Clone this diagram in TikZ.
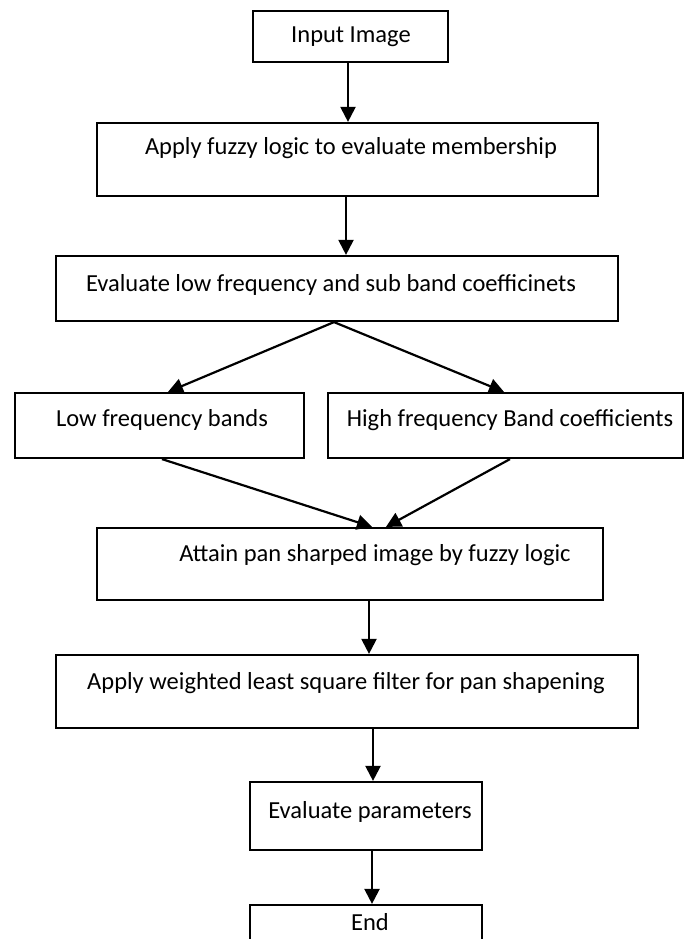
\documentclass[tikz,border=0pt]{standalone}
\usepackage{fontspec}
\setmainfont{Carlito}
\usetikzlibrary{arrows.meta}
\begin{document}
\begin{tikzpicture}[x=1pt,y=-1pt,
  box/.style={draw=black,line width=2.2pt,inner sep=0pt},
  txt/.style={inner sep=0pt,font=\fontsize{24.5}{29}\selectfont},
  conn/.style={line width=2.2pt,-{Triangle[length=15pt,width=15pt]}}]
\useasboundingbox (0,0) rectangle (695,939);
% boxes
\node[box,minimum width=195pt,minimum height=51pt] (b1) at (350.5,36.5) {};
\node[box,minimum width=501pt,minimum height=73pt] (b2) at (347.5,159.5) {};
\node[box,minimum width=562pt,minimum height=65pt] (b3) at (337,288.5) {};
\node[box,minimum width=289pt,minimum height=65pt] (b4) at (159.5,425.5) {};
\node[box,minimum width=355pt,minimum height=65pt] (b5) at (505.5,425.5) {};
\node[box,minimum width=506pt,minimum height=72pt] (b6) at (350,564) {};
\node[box,minimum width=582pt,minimum height=73pt] (b7) at (347,691.5) {};
\node[box,minimum width=232pt,minimum height=68pt] (b8) at (366,816) {};
\node[box,minimum width=232pt,minimum height=60pt] (b9) at (366,935) {};
% texts
\node[txt] (t1) at (351,37) {Input Image};
\node[txt] (t2) at (351,148) {Apply fuzzy logic to evaluate membership};
\node[txt] (t3) at (331,285) {Evaluate low frequency and sub band coefficinets};
\node[txt] (t4) at (162,420) {Low frequency bands};
\node[txt] (t5) at (510,420) {High frequency Band coefficients};
\node[txt] (t6) at (375,555) {Attain pan sharped image by fuzzy logic};
\node[txt] (t7) at (346,683) {Apply weighted least square filter for pan shapening};
\node[txt] (t8) at (370,812) {Evaluate parameters};
\node[txt] (t9) at (370,922) {End};
% connectors
\draw[conn] (b1.south -| 348,0) -- (b2.north -| 348,0);
\draw[conn] (b2.south -| 346,0) -- (b3.north -| 346,0);
\draw[conn] (b3.south -| 334,0) -- (b4.north -| 168,0);
\draw[conn] (b3.south -| 334,0) -- (b5.north -| 504,0);
\draw[conn] (b4.south -| 162,0) -- (b6.north -| 372,0);
\draw[conn] (b5.south -| 510,0) -- (b6.north -| 386,0);
\draw[conn] (b6.south -| 369,0) -- (b7.north -| 369,0);
\draw[conn] (b7.south -| 373,0) -- (b8.north -| 373,0);
\draw[conn] (b8.south -| 372,0) -- (b9.north -| 372,0);
\end{tikzpicture}
\end{document}
